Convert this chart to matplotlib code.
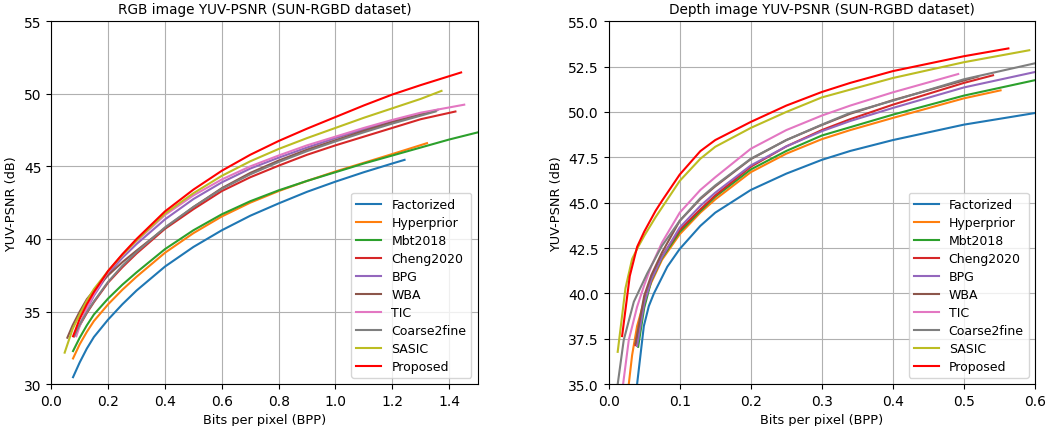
import matplotlib
matplotlib.use("Agg")
from matplotlib import pyplot as plt

plt.rcParams["font.size"] = 9
plt.rcParams["axes.titlesize"] = 9.8
plt.rcParams["axes.labelsize"] = 9.3
plt.rcParams["xtick.labelsize"] = 10
plt.rcParams["ytick.labelsize"] = 10

methods = ["Factorized", "Hyperprior", "Mbt2018", "Cheng2020", "BPG",
           "WBA", "TIC", "Coarse2fine", "SASIC", "Proposed"]
colors = ["C0", "C1", "C2", "C3", "C4", "C5", "C6", "C7", "C8", "red"]

# RGB image, values
rgb_bpp = {
    "Factorized": [0.0765, 0.1, 0.125, 0.15, 0.2, 0.25, 0.3, 0.4, 0.5, 0.6, 0.7, 0.8, 0.9, 1.0, 1.1, 1.2, 1.243],
    "Hyperprior": [0.0765, 0.1, 0.125, 0.15, 0.2, 0.25, 0.3, 0.4, 0.5, 0.6, 0.7, 0.8, 0.9, 1.0, 1.1, 1.2, 1.322],
    "Mbt2018": [0.0765, 0.1, 0.125, 0.15, 0.2, 0.25, 0.3, 0.4, 0.5, 0.6, 0.7, 0.8, 0.9, 1.0, 1.1, 1.2, 1.3, 1.4, 1.5],
    "Cheng2020": [0.08, 0.1, 0.125, 0.15, 0.2, 0.25, 0.3, 0.4, 0.5, 0.6, 0.7, 0.8, 0.9, 1.0, 1.1, 1.2, 1.3, 1.422],
    "BPG": [0.085, 0.1, 0.125, 0.15, 0.2, 0.25, 0.3, 0.4, 0.5, 0.6, 0.7, 0.8, 0.9, 1.0, 1.1, 1.2, 1.36],
    "WBA": [0.0565, 0.075, 0.1, 0.125, 0.15, 0.2, 0.25, 0.3, 0.4, 0.5, 0.6, 0.7, 0.8, 0.9, 1.0, 1.1, 1.2, 1.355],
    "TIC": [0.088, 0.1, 0.125, 0.15, 0.2, 0.25, 0.3, 0.4, 0.5, 0.6, 0.7, 0.8, 0.9, 1.0, 1.1, 1.2, 1.3, 1.453],
    "Coarse2fine": [0.08, 0.1, 0.125, 0.15, 0.2, 0.25, 0.3, 0.4, 0.5, 0.6, 0.7, 0.8, 0.9, 1.0, 1.1, 1.2, 1.352],
    "SASIC": [0.047, 0.075, 0.1, 0.125, 0.15, 0.2, 0.25, 0.3, 0.4, 0.5, 0.6, 0.7, 0.8, 0.9, 1.0, 1.1, 1.2, 1.3, 1.373],
    "Proposed": [0.0765, 0.1, 0.125, 0.15, 0.2, 0.25, 0.3, 0.4, 0.5, 0.6, 0.7, 0.8, 0.9, 1.0, 1.1, 1.2, 1.3, 1.442],
}
rgb_psnr = {
    "Factorized": [30.48, 31.5, 32.45, 33.25, 34.45, 35.5, 36.45, 38.1, 39.45, 40.6, 41.6, 42.45, 43.25, 43.95, 44.6, 45.2, 45.45],
    "Hyperprior": [31.77, 32.75, 33.6, 34.35, 35.5, 36.5, 37.4, 39.05, 40.4, 41.55, 42.5, 43.3, 44.0, 44.65, 45.25, 45.85, 46.6],
    "Mbt2018": [32.28, 33.2, 34.05, 34.8, 35.9, 36.85, 37.7, 39.3, 40.6, 41.7, 42.6, 43.35, 44.0, 44.6, 45.2, 45.75, 46.3, 46.85, 47.34],
    "Cheng2020": [33.3, 34.05, 34.9, 35.65, 37.0, 38.05, 39.0, 40.7, 42.05, 43.3, 44.25, 45.05, 45.8, 46.45, 47.05, 47.65, 48.25, 48.78],
    "BPG": [33.4, 34.1, 35.15, 36.1, 37.6, 38.7, 39.65, 41.35, 42.75, 43.9, 44.85, 45.6, 46.3, 46.95, 47.55, 48.1, 48.9],
    "WBA": [33.2, 34.05, 35.0, 35.85, 36.45, 37.5, 38.4, 39.2, 40.75, 42.2, 43.5, 44.55, 45.4, 46.15, 46.8, 47.45, 48.05, 48.85],
    "TIC": [33.3, 34.0, 35.2, 36.2, 37.75, 38.9, 39.85, 41.65, 43.0, 44.1, 45.0, 45.75, 46.45, 47.05, 47.65, 48.2, 48.7, 49.25],
    "Coarse2fine": [33.3, 34.1, 34.95, 35.7, 37.05, 38.15, 39.1, 40.8, 42.2, 43.45, 44.45, 45.3, 46.05, 46.72, 47.35, 47.95, 48.78],
    "SASIC": [32.17, 33.8, 34.8, 35.75, 36.55, 37.8, 38.9, 39.9, 41.75, 43.15, 44.35, 45.35, 46.2, 46.95, 47.65, 48.35, 49.0, 49.65, 50.2],
    "Proposed": [33.3, 34.5, 35.5, 36.35, 37.8, 38.95, 40.0, 41.9, 43.4, 44.7, 45.8, 46.75, 47.6, 48.4, 49.2, 49.95, 50.6, 51.47],
}

# Depth image, values
depth_bpp = {
    "Factorized": [0.04, 0.0495, 0.0565, 0.0637, 0.0825, 0.1, 0.129, 0.15, 0.2, 0.25, 0.3, 0.34, 0.4, 0.5, 0.6],
    "Hyperprior": [0.0283, 0.033, 0.04, 0.05, 0.06, 0.075, 0.1, 0.129, 0.15, 0.2, 0.25, 0.3, 0.34, 0.4, 0.5, 0.5516],
    "Mbt2018": [0.0415, 0.05, 0.06, 0.075, 0.1, 0.129, 0.15, 0.2, 0.25, 0.3, 0.34, 0.4, 0.5, 0.6],
    "Cheng2020": [0.0377, 0.05, 0.06, 0.075, 0.1, 0.129, 0.15, 0.2, 0.25, 0.3, 0.34, 0.4, 0.5, 0.541],
    "BPG": [0.04, 0.05, 0.06, 0.075, 0.1, 0.129, 0.15, 0.2, 0.25, 0.3, 0.34, 0.4, 0.5, 0.6],
    "WBA": [0.0377, 0.05, 0.06, 0.075, 0.1, 0.129, 0.15, 0.2, 0.25, 0.3, 0.34, 0.4, 0.52],
    "TIC": [0.0203, 0.0283, 0.04, 0.05, 0.06, 0.075, 0.1, 0.129, 0.15, 0.2, 0.25, 0.3, 0.34, 0.4, 0.492],
    "Coarse2fine": [0.0127, 0.0212, 0.0354, 0.05, 0.0542, 0.075, 0.1, 0.129, 0.15, 0.2, 0.25, 0.3, 0.34, 0.4, 0.5, 0.6],
    "SASIC": [0.0127, 0.0236, 0.033, 0.042, 0.05, 0.066, 0.1, 0.129, 0.15, 0.2, 0.25, 0.3, 0.34, 0.4, 0.5, 0.592],
    "Proposed": [0.0189, 0.0297, 0.0401, 0.05, 0.066, 0.075, 0.1, 0.129, 0.15, 0.2, 0.25, 0.3, 0.34, 0.4, 0.5, 0.5626],
}
depth_psnr = {
    "Factorized": [35.0, 38.2, 39.3, 40.0, 41.47, 42.45, 43.72, 44.45, 45.7, 46.6, 47.36, 47.85, 48.45, 49.3, 49.94],
    "Hyperprior": [35.0, 36.6, 38.2, 39.6, 40.6, 41.85, 43.26, 44.45, 45.18, 46.68, 47.7, 48.5, 49.0, 49.67, 50.75, 51.19],
    "Mbt2018": [37.06, 39.2, 40.7, 41.95, 43.39, 44.54, 45.33, 46.83, 47.85, 48.7, 49.16, 49.85, 50.9, 51.75],
    "Cheng2020": [37.15, 39.5, 40.8, 42.05, 43.5, 44.63, 45.4, 46.98, 48.1, 49.0, 49.6, 50.4, 51.6, 52.02],
    "BPG": [37.1, 39.45, 40.75, 42.0, 43.63, 44.82, 45.55, 47.05, 48.1, 48.94, 49.5, 50.22, 51.35, 52.2],
    "WBA": [37.24, 39.87, 41.0, 42.25, 44.0, 45.2, 45.9, 47.4, 48.45, 49.28, 49.9, 50.65, 51.95],
    "TIC": [35.0, 37.43, 39.26, 40.45, 41.5, 42.8, 44.45, 45.7, 46.4, 47.97, 49.0, 49.8, 50.35, 51.08, 52.09],
    "Coarse2fine": [35.0, 37.43, 39.54, 40.75, 41.1, 42.62, 44.0, 45.25, 45.95, 47.42, 48.45, 49.3, 49.95, 50.62, 51.8, 52.68],
    "SASIC": [36.78, 40.28, 41.9, 42.6, 43.17, 44.2, 46.2, 47.42, 48.08, 49.12, 50.0, 50.8, 51.23, 51.87, 52.74, 53.4],
    "Proposed": [37.65, 40.96, 42.57, 43.4, 44.55, 45.1, 46.55, 47.84, 48.45, 49.45, 50.35, 51.1, 51.6, 52.25, 53.07, 53.5],
}

fig, axes = plt.subplots(1, 2, figsize=(10.47, 4.27), dpi=100)
fig.subplots_adjust(left=0.049, right=0.9885, bottom=0.098, top=0.948, wspace=0.3075)

ax = axes[0]
for name, c in zip(methods, colors):
    ax.plot(rgb_bpp[name], rgb_psnr[name], color=c, label=name)
ax.set_xlim(0, 1.5)
ax.set_ylim(30, 55)
ax.set_title("RGB image YUV-PSNR (SUN-RGBD dataset)")

ax = axes[1]
for name, c in zip(methods, colors):
    ax.plot(depth_bpp[name], depth_psnr[name], color=c, label=name)
ax.set_xlim(0, 0.6)
ax.set_ylim(35, 55)
ax.set_yticks([35.0, 37.5, 40.0, 42.5, 45.0, 47.5, 50.0, 52.5, 55.0])
ax.set_title("Depth image YUV-PSNR (SUN-RGBD dataset)")

for ax in axes:
    ax.set_xlabel("Bits per pixel (BPP)")
    ax.set_ylabel("YUV-PSNR (dB)")
    ax.grid(True)
    ax.legend(loc="lower right", fontsize=9, labelspacing=0.4)

plt.savefig("out.png")
